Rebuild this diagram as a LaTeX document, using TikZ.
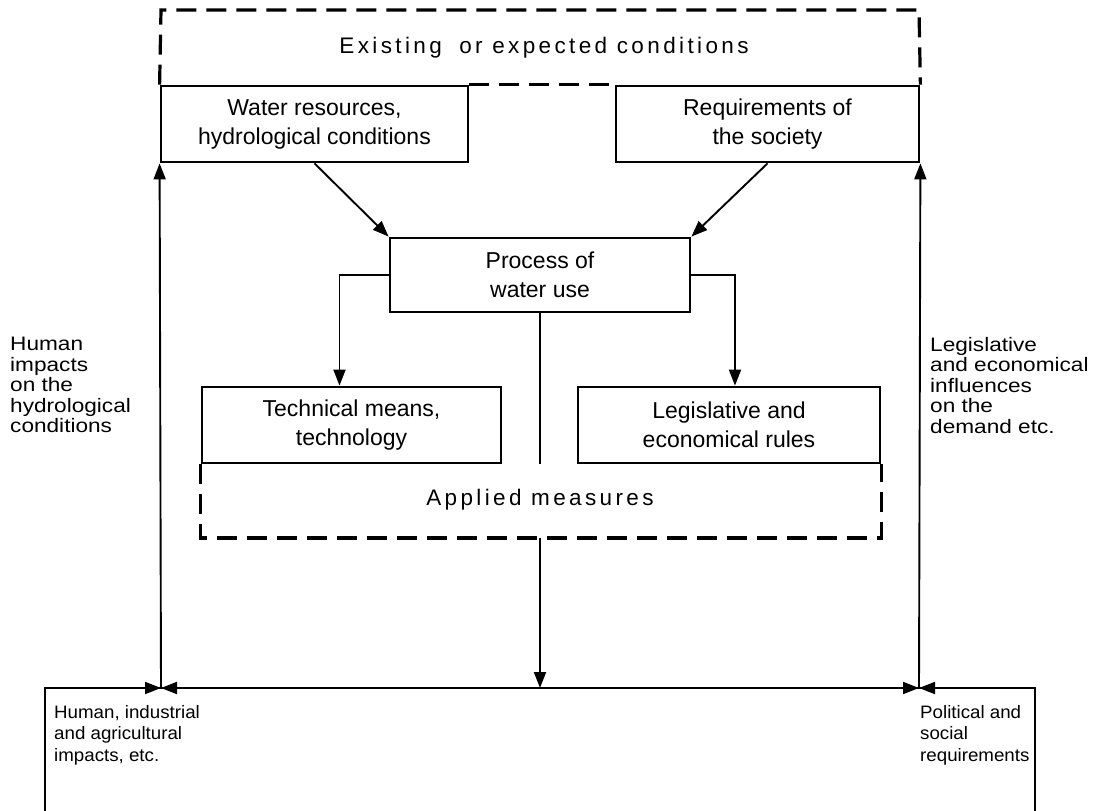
\documentclass[tikz,border=0pt]{standalone}
\usepackage{fontspec}
\setmainfont{Liberation Sans}
\newfontfamily\widefont[FakeStretch=1.16]{Liberation Sans}
\newfontfamily\lowfont[FakeStretch=1.04]{Liberation Sans}
\newfontfamily\spacedfont[LetterSpace=15]{Liberation Sans}
\usetikzlibrary{arrows.meta}

\begin{document}
\begin{tikzpicture}[x=1pt,y=-1pt,
  box/.style={draw,line width=2.8pt,inner sep=0pt,align=center,font=\fontsize{23}{29}\selectfont},
  conn/.style={line width=1.9pt},
  arr/.style={conn,-{Triangle[length=16pt,width=12pt]}},
  frame/.style={line width=3.2pt,dash pattern=on 20pt off 10pt},
  side/.style={align=left,inner sep=0pt,anchor=north west,font=\widefont\fontsize{19.5}{20.5}\selectfont},
  bottomtext/.style={align=left,inner sep=0pt,anchor=north west,font=\lowfont\fontsize{18}{21.5}\selectfont},
  title/.style={font=\spacedfont\fontsize{22.5}{26}\selectfont}]
\useasboundingbox (0,0) rectangle (1098,811);

% boxes
\node[box,minimum width=307pt,minimum height=76pt] (water) at (314.5,124) {Water resources,\\hydrological conditions};
\node[box,minimum width=303pt,minimum height=76pt] (req) at (767.5,124) {Requirements of\\the society};
\node[box,minimum width=300pt,minimum height=74pt] (proc) at (540,275) {Process of\\water use};
\node[box,minimum width=299pt,minimum height=76pt] (tech) at (351.5,425) {Technical means,\\technology};
\node[box,minimum width=302pt,minimum height=76pt] (leg) at (729,425) {Legislative and\\economical rules};

% dashed frame of the conditions
\coordinate (ftl) at (161,10);
\coordinate (ftr) at (919,10);
\draw[frame] (water.north west) -- (ftl) -- (ftr) -- (req.north east);
\draw[frame] (water.north east) -- (req.north west);
\node[title] (cond) at (544,48) {Existing\hspace{0.35em} or expected conditions};

% dashed frame of the measures
\coordinate (abl) at (tech.south west |- 0,538);
\coordinate (abr) at (leg.south east |- 0,538);
\draw[frame] (tech.south west) -- (abl) -- (abr) -- (leg.south east);
\node[title] (appl) at (540,500) {Applied measures};

% connectors between the boxes
\draw[arr] (water.south) -- (proc.north west);
\draw[arr] (req.south) -- (proc.north east);
\draw[arr] (proc.west) -| ([xshift=-12pt]tech.north);
\draw[arr] (proc.east) -| ([xshift=6pt]leg.north);
\draw[conn] (proc.south) -- (proc.south |- tech.south);

% impacts frame at the bottom
\coordinate (bl) at (45,811);
\coordinate (btl) at (45,688);
\coordinate (btr) at (1035,688);
\coordinate (br) at (1035,811);
\coordinate (jl) at (161,688);
\coordinate (jr) at (919,688);
\coordinate (jc) at (540,688);
\coordinate (ab) at (540,538);
\draw[line width=2.6pt] (bl) -- (btl) -- (btr) -- (br);
\draw[arr] (ab) -- (jc);
\draw[arr] (btl) -- (jl);
\draw[arr] (jc) -- (jl);
\draw[arr] (btr) -- (jr);
\draw[arr] (jc) -- (jr);
\draw[arr] (jl) -- (water.south west);
\draw[arr] (jr) -- (req.south east);

% labels
\node[side] (hl) at (10,337) {Human\\impacts\\on the\\hydrological\\conditions};
\node[side] (ll) at (930,337) {Legislative\\and economical\\influences\\on the\\demand etc.};
\node[bottomtext] (bl1) at (54,705) {Human, industrial\\and agricultural\\impacts, etc.};
\node[bottomtext] (br1) at (920,705) {Political and\\social\\requirements};
\end{tikzpicture}
\end{document}
